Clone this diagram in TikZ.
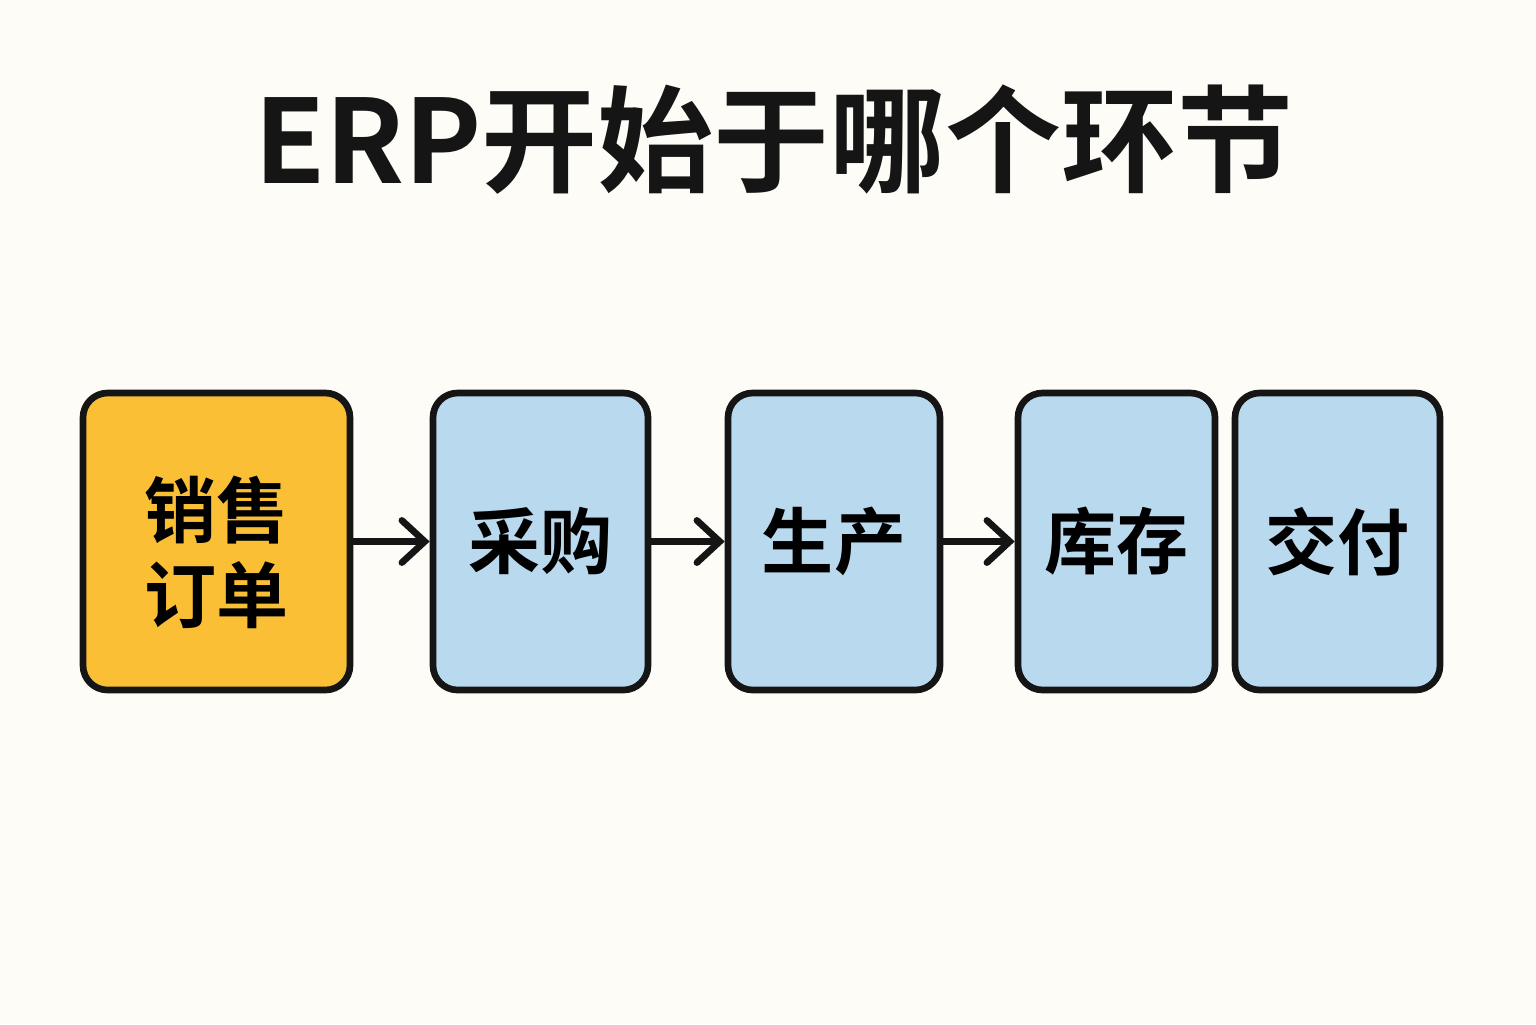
\documentclass[tikz,border=0pt]{standalone}
\usepackage{fontspec}
\usepackage{tikz}
\usetikzlibrary{arrows.meta, positioning}
\newfontfamily\cjk{Noto Sans CJK SC}
\newfontfamily\cjkbold{Noto Sans CJK SC Bold}
\definecolor{erpbg}{HTML}{FDFCF7}
\definecolor{erporange}{HTML}{FBBF36}
\definecolor{erpblue}{HTML}{B9D9EE}
\definecolor{erpink}{HTML}{151515}

\begin{document}
\begin{tikzpicture}[
  startstep/.style={
    rectangle,
    rounded corners=7pt,
    draw=erpink,
    line width=1.9pt,
    fill=erporange,
    minimum height=2.97cm,
    align=center,
    inner sep=0pt,
    font=\cjkbold\fontsize{20.5pt}{23pt}\selectfont
  },
  flowstep/.style={
    rectangle,
    rounded corners=7pt,
    draw=erpink,
    line width=1.9pt,
    fill=erpblue,
    minimum height=2.97cm,
    align=center,
    inner sep=0pt,
    font=\cjkbold\fontsize{20.5pt}{23pt}\selectfont
  },
  arrow/.style={-{Straight Barb[length=6.5pt, width=12pt, line cap=round]}, line width=1.9pt, erpink}
]
  % Background
  \fill[erpbg] (0,0) rectangle (15.36,-10.24);
  \useasboundingbox (0,0) rectangle (15.36,-10.24);

  % Title
  \node[font=\cjkbold\fontsize{33pt}{37pt}\selectfont, text=erpink] (title) at (7.74,-1.40) {ERP开始于哪个环节};

  % Steps
  \node[startstep, minimum width=2.67cm] (order) at (2.165,-5.415) {\raisebox{-3pt}[\height][\depth]{\shortstack{销售\\[2pt]订单}}};
  \node[flowstep, minimum width=2.15cm] (purchase) at (5.405,-5.415) {采购};
  \node[flowstep, minimum width=2.12cm] (produce) at (8.34,-5.415) {生产};
  \node[flowstep, minimum width=1.97cm] (stock) at (11.165,-5.415) {库存};
  \node[flowstep, minimum width=2.05cm] (deliver) at (13.375,-5.415) {交付};

  % Flow
  \draw[arrow] (order) -- (purchase);
  \draw[arrow] (purchase) -- (produce);
  \draw[arrow] (produce) -- (stock);
\end{tikzpicture}
\end{document}
